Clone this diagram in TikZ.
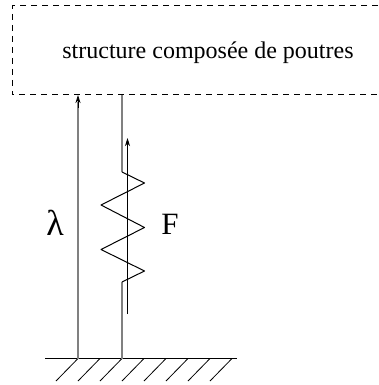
\documentclass[tikz,border=0pt]{standalone}
\usepackage{fontspec}
\setmainfont{Liberation Serif}
\usetikzlibrary{arrows.meta}
\tikzset{
  thick line/.style={draw=black!50,line width=1.5pt},
  thin line/.style={draw=black,line width=1pt},
  box line/.style={draw=black,line width=1pt,dash pattern=on 6pt off 5pt},
  tip/.style={-{Stealth[length=8pt,width=5pt,inset=2.5pt]}}
}
\begin{document}
\begin{tikzpicture}[x=1pt,y=-1pt]
\useasboundingbox (0,0) rectangle (378,385);
\coordinate (bl) at (12,95);
\coordinate (tl) at (12,6);
\coordinate (tr) at (378,6);
\coordinate (br) at (378,95);
\draw[box line] (tr) -- (tl) -- (bl) -- (br);
\node[anchor=base,font=\fontsize{24pt}{28pt}\selectfont,inner sep=0pt] (title) at (208,59) {structure composée de poutres};
% ground
\coordinate (g1) at (45,358.5);
\coordinate (g2) at (237,358.5);
\draw[thin line] (g1) -- (g2);
\foreach \x in {78,100,122,144,166,188,210,232}
  \draw[draw=black,line width=0.8pt] (\x,358.5) -- (\x-22,381);
% lambda arrow
\coordinate (a0) at (78,358.5);
\coordinate (a1) at (78,95);
\draw[thick line] (a0) -- (78,102);
\draw[draw=black,line width=0.8pt,tip] (78,108) -- (a1);
% spring
\coordinate (s0) at (122,358.5);
\coordinate (s1) at (122,282);
\coordinate (s2) at (122,172);
\coordinate (s3) at (122,95);
\draw[thick line] (s0) -- (s1);
\draw[thick line] (s2) -- (s3);
\draw[thin line,line join=round] (s1) -- (144.5,271) -- (101,249.5) -- (144.5,227.5) -- (101,205) -- (144.5,183) -- (s2);
% force arrow
\coordinate (f0) at (127.5,314);
\coordinate (f1) at (127.5,138);
\draw[thin line,tip] (f0) -- (f1);
\node[anchor=base,font=\fontsize{36pt}{40pt}\selectfont,inner sep=0pt] (lam) at (55,235) {λ};
\node[anchor=base,font=\fontsize{31pt}{34pt}\selectfont,inner sep=0pt] (F) at (170,234) {F};
\end{tikzpicture}
\end{document}
